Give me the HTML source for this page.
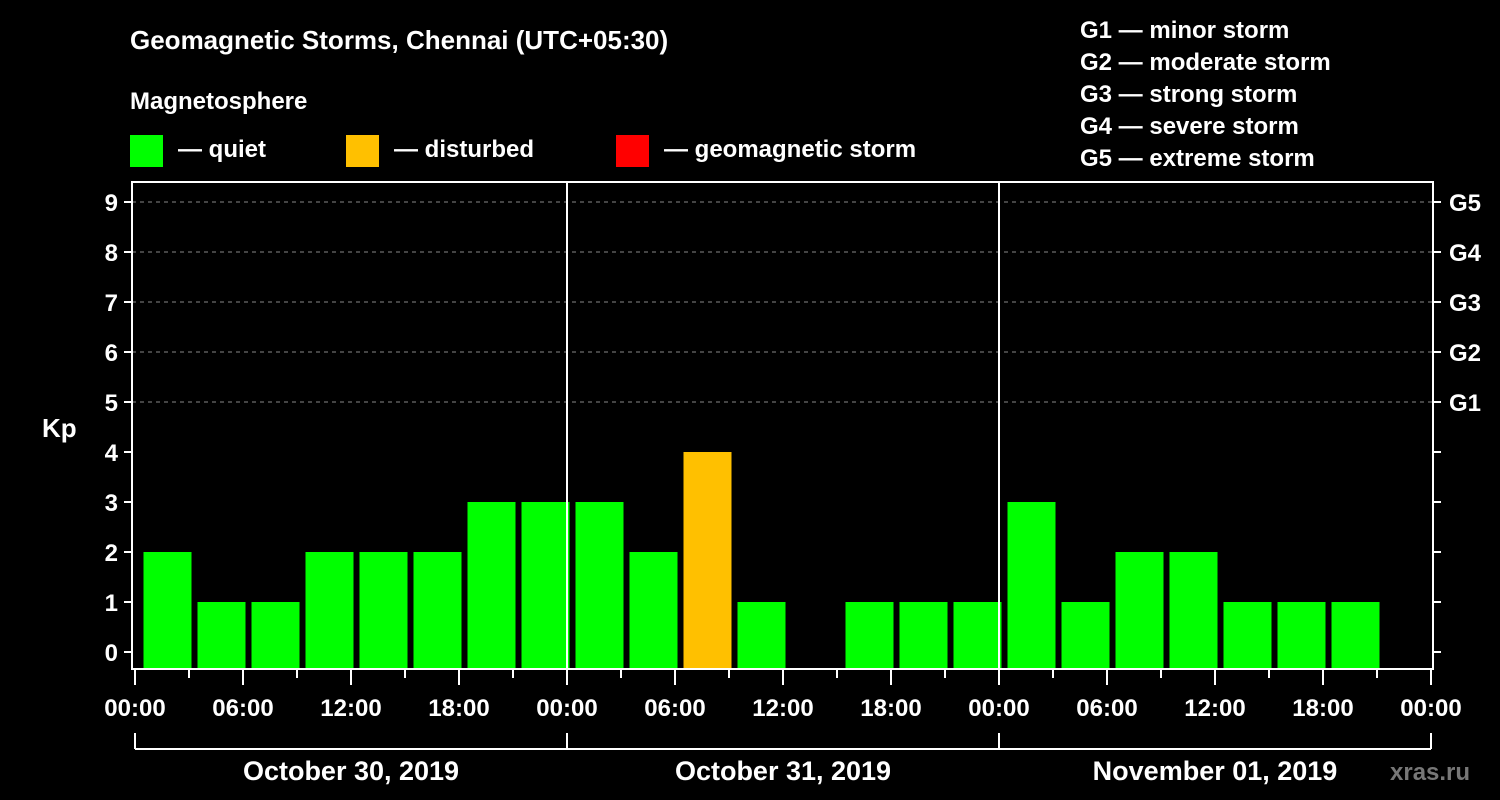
<!DOCTYPE html>
<html><head><meta charset="utf-8"><style>
body{margin:0;background:#000;width:1500px;height:800px;overflow:hidden}
svg{display:block}
text{font-family:"Liberation Sans",Arial,sans-serif;font-weight:bold;fill:#fff}
</style></head><body>
<svg id="chart" width="1500" height="800">
<text x="130" y="49" font-size="26">Geomagnetic Storms, Chennai (UTC+05:30)</text>
<text x="130" y="109" font-size="24">Magnetosphere</text>
<g><rect x="130" y="135" width="33" height="32" fill="#00ff00"/><text x="178" y="157" font-size="24">— quiet</text></g>
<g><rect x="346" y="135" width="33" height="32" fill="#ffc000"/><text x="394" y="157" font-size="24">— disturbed</text></g>
<g><rect x="616" y="135" width="33" height="32" fill="#ff0000"/><text x="664" y="157" font-size="24">— geomagnetic storm</text></g>
<g font-size="24">
<text x="1080" y="38">G1 — minor storm</text>
<text x="1080" y="70">G2 — moderate storm</text>
<text x="1080" y="102">G3 — strong storm</text>
<text x="1080" y="134">G4 — severe storm</text>
<text x="1080" y="166">G5 — extreme storm</text>
</g>
<text x="42" y="437" font-size="26">Kp</text>
<text x="1390" y="780" font-size="24" fill="#888" style="fill:#777">xras.ru</text>
<g id="plot"></g>
</svg>
<script>
const kpValues=[2,1,1,2,2,2,3,3, 3,2,4,1,null,1,1,1, 3,1,2,2,1,1,1,null];
const dayLabels=["October 30, 2019","October 31, 2019","November 01, 2019"];
const hourLabels=["00:00","06:00","12:00","18:00"];
const yTicks=[0,1,2,3,4,5,6,7,8,9];
const gLabels=["G1","G2","G3","G4","G5"];
const NS="http://www.w3.org/2000/svg";
const L=132,R=1433,T=182,B=669,X0=135,PXH=18;
const xs=h=>X0+h*PXH;
const ys=v=>652-v*50;
const g=document.getElementById('plot');
function mk(t,a){const e=document.createElementNS(NS,t);for(const k in a)e.setAttribute(k,a[k]);g.appendChild(e);return e;}
yTicks.forEach(v=>{
 if(v>=5){const l=mk('line',{x1:L,x2:R,y1:ys(v),y2:ys(v),stroke:'#888','stroke-dasharray':'4,4','stroke-width':1});
 
 }
 mk('line',{x1:L-8,x2:L,y1:ys(v),y2:ys(v),stroke:'#fff','stroke-width':2});
 mk('line',{x1:R,x2:R+8,y1:ys(v),y2:ys(v),stroke:'#fff','stroke-width':2});
 const t=mk('text',{x:L-14,y:ys(v)+9,'font-size':24,'text-anchor':'end'});t.textContent=v;
 
 
});
gLabels.forEach((s,i)=>{const t=mk('text',{x:1449,y:ys(5+i)+9,'font-size':24});t.textContent=s;
 
 });
kpValues.forEach((v,k)=>{
 if(v===null)return;
 let x1=xs(k*3+0.5)-0.5,x2=x1+48;if(x1<L+4)x1=L+4;
 const r=mk('rect',{x:x1,y:ys(v),width:x2-x1,height:B-1-ys(v),fill:v>=5?'#ff0000':v>=4?'#ffc000':'#00ff00'});
 
 
});
[1,2].forEach(d=>mk('line',{x1:xs(24*d),x2:xs(24*d),y1:T,y2:B,stroke:'#fff','stroke-width':2}));
const fr=mk('rect',{x:L,y:T,width:R-L,height:B-T,fill:'none',stroke:'#fff','stroke-width':2});


for(let h=0;h<=72;h+=3){
 const long=h%6===0;
 mk('line',{x1:xs(h),x2:xs(h),y1:B,y2:B+(long?16:9),stroke:'#fff','stroke-width':2});
 if(long){const t=mk('text',{x:xs(h),y:716,'font-size':24,'text-anchor':'middle'});t.textContent=hourLabels[(h/6)%4];
 
 }
}
mk('line',{x1:xs(0),x2:xs(72),y1:749,y2:749,stroke:'#fff','stroke-width':2});
for(let d=0;d<=3;d++)mk('line',{x1:xs(24*d),x2:xs(24*d),y1:733,y2:749,stroke:'#fff','stroke-width':2});
dayLabels.forEach((s,d)=>{const t=mk('text',{x:xs(24*d+12),y:780,'font-size':27,'text-anchor':'middle'});t.textContent=s;
 
 });
</script>
</body></html>
